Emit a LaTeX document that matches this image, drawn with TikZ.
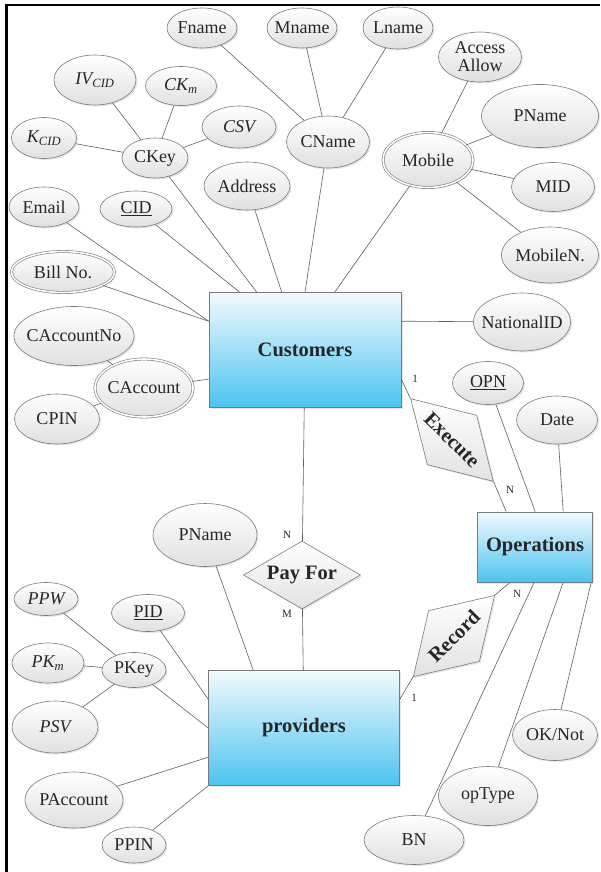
\documentclass[tikz,border=0pt]{standalone}
\usepackage{fontspec}
\setmainfont{Liberation Serif}
\usetikzlibrary{shapes.geometric,shadows,calc}

\definecolor{entTop}{HTML}{F2FAFE}
\definecolor{entBot}{HTML}{4DC3F0}
\definecolor{attrBot}{HTML}{E0E0E0}
\definecolor{relBot}{HTML}{E2E2E2}
\definecolor{edgeGray}{HTML}{7A7A7A}
\definecolor{lineGray}{HTML}{5E5E5E}
\definecolor{txt}{HTML}{262626}

\tikzset{
	sz/.style 2 args={minimum width=#1pt, minimum height=#2pt},
	softshadow/.style={drop shadow={shadow xshift=1.5pt, shadow yshift=-1.5pt, opacity=0.2}},
	attr/.style={shape=ellipse, draw=edgeGray, line width=0.6pt, top color=white, bottom color=attrBot, inner sep=0pt, inner xsep=-10pt, text=txt, font=\fontsize{18}{18}\selectfont, softshadow},
	multi/.style={attr, double=white, double distance=1.6pt},
	ent/.style={shape=rectangle, draw=edgeGray, line width=0.6pt, top color=entTop, bottom color=entBot, text=txt, font=\fontsize{20.5}{20.5}\selectfont\bfseries, softshadow},
	rel/.style={shape=diamond, aspect=1.7, draw=edgeGray, line width=0.6pt, top color=white, bottom color=relBot, inner sep=0pt, text=txt, font=\fontsize{20.5}{20.5}\selectfont\bfseries, softshadow},
	card/.style={inner sep=0pt, text=txt, font=\fontsize{11}{11}\selectfont},
	conn/.style={draw=lineGray, line width=0.6pt}
}

\begin{document}
\begin{tikzpicture}[x=1pt, y=-1pt]
	
	\useasboundingbox (0, 0) rectangle (600, 872);
	\draw[line width=2.6pt, black] (6.3, 872) -- (6.3, 5) -- (600, 5);
	
	\node[ent, sz={192}{115}] (cust) at (305, 350) {Customers};
	\node[ent, sz={191}{115}] (prov) at (304, 728) {providers};
	\node[ent, sz={115}{70}] (ops) at (535, 547) {Operations};
	
	\node[rel, sz={117}{68}] (pay) at (302, 575) {Pay For};
	\node[rel, sz={117}{70}, rotate=-45] (exe) at (452, 440) {Execute};
	\node[rel, sz={115}{72}, rotate=45] (rec) at (454, 636) {Record};
	
	\node[attr, sz={70}{40}] (fname) at (202, 28) {Fname};
	\node[attr, sz={70}{40}] (mname) at (302, 28) {Mname};
	\node[attr, sz={70}{42}] (lname) at (398, 28) {Lname};
	\node[attr, sz={83}{52}] (cname) at (328, 142) {CName};
	\node[attr, sz={83}{50}, align=center] (access) at (480, 57) {Access\\Allow};
	\node[attr, sz={117}{63}] (mpname) at (540, 116) {PName};
	\node[multi, sz={90}{55}] (mobile) at (428, 160) {Mobile};
	\node[attr, sz={83}{49}] (mid) at (553, 187) {MID};
	\node[attr, sz={97}{56}] (mobilen) at (550, 255) {MobileN.};
	
	\node[attr, sz={82}{50}] (ivcid) at (95, 80) {\itshape IV\textsubscript{CID}};
	\node[attr, sz={71}{39}] (ckm) at (181, 86) {\itshape CK\textsubscript{m}};
	\node[attr, sz={74}{42}] (csv) at (239, 127) {\itshape CSV};
	\node[attr, sz={65}{41}] (kcid) at (44, 138) {\itshape K\textsubscript{CID}};
	\node[attr, sz={66}{40}] (ckey) at (155, 158) {CKey};
	\node[attr, sz={86}{48}] (address) at (247, 186) {Address};
	\node[attr, sz={70}{40}] (email) at (44, 207) {Email};
	\node[attr, sz={72}{36}] (cid) at (136, 209) {\underline{CID}};
	\node[multi, sz={103}{41}] (bill) at (63, 272) {Bill No.};
	\node[attr, sz={97}{58}] (natid) at (522, 322) {NationalID};
	\node[attr, sz={120}{59}] (caccno) at (74, 336) {CAccountNo};
	\node[multi, sz={98}{58}] (cacc) at (144, 388) {CAccount};
	\node[attr, sz={85}{50}] (cpin) at (57, 419) {CPIN};
	
	\node[attr, sz={71}{43}] (opn) at (488, 383) {\underline{OPN}};
	\node[attr, sz={81}{48}] (date) at (557, 420) {Date};
	\node[attr, sz={85}{51}] (oknot) at (555, 735) {OK/Not};
	\node[attr, sz={99}{59}] (optype) at (488, 796) {opType};
	\node[attr, sz={100}{49}] (bn) at (414, 840) {BN};
	
	\node[attr, sz={104}{63}] (ppname) at (205, 535) {PName};
	\node[attr, sz={64}{33}] (ppw) at (46, 599) {\itshape PPW};
	\node[attr, sz={73}{37}] (pid) at (148, 613) {\underline{PID}};
	\node[attr, sz={72}{40}] (pkm) at (48, 663) {\itshape PK\textsubscript{m}};
	\node[attr, sz={64}{35}] (pkey) at (134, 670) {PKey};
	\node[attr, sz={86}{52}] (psv) at (55, 727) {\itshape PSV};
	\node[attr, sz={98}{56}] (pacc) at (74, 800) {PAccount};
	\node[attr, sz={64}{36}] (ppin) at (134, 845) {PPIN};
	
	\node[card] (exeone) at (415, 379) {1};
	\node[card] (exen) at (510, 490) {N};
	\node[card] (payn) at (287, 535) {N};
	\node[card] (paym) at (287, 614) {M};
	\node[card] (recone) at (414, 698) {1};
	\node[card] (recn) at (517, 594) {N};
	
	\path[conn] (fname) edge (cname);
	\path[conn] (mname) edge (cname);
	\path[conn] (lname) edge (cname);
	\path[conn] (access) edge (mobile);
	\path[conn] (mpname) edge (mobile);
	\path[conn] (mid) edge (mobile);
	\path[conn] (mobilen) edge (mobile);
	\path[conn] (ivcid) edge (ckey);
	\path[conn] (ckm) edge (ckey);
	\path[conn] (csv) edge (ckey);
	\path[conn] (kcid) edge (ckey);
	\path[conn] (caccno) edge (cacc);
	\path[conn] (cpin) edge (cacc);
	
	\path[conn] (cname) edge (cust.north);
	\path[conn] (mobile) edge ($(cust.north west)+(126, 0)$);
	\path[conn] (address) edge ($(cust.north west)+(73, 0)$);
	\path[conn] (ckey) edge ($(cust.north west)+(48, 0)$);
	\path[conn] (cid) edge ($(cust.north west)+(31, 0)$);
	\path[conn] (email) edge ($(cust.north west)+(0, 29)$);
	\path[conn] (bill) edge ($(cust.north west)+(0, 29)$);
	\path[conn] (cacc) edge ($(cust.north west)+(0, 87)$);
	\path[conn] (natid) edge ($(cust.north east)+(0, 29)$);
	
	\path[conn] ($(cust.north east)+(0, 87)$) edge (exe.west);
	\path[conn] (exe.east) edge ($(ops.north west)+(29, 0)$);
	\path[conn] (cust) edge (pay);
	\path[conn] (pay) edge (prov);
	\path[conn] ($(prov.north east)+(0, 29)$) edge (rec.west);
	\path[conn] (rec.east) edge ($(ops.south west)+(33, 0)$);
	
	\path[conn] (opn) edge ($(ops.north west)+(58, 0)$);
	\path[conn] (date) edge ($(ops.north west)+(86, 0)$);
	\path[conn] (bn) edge ($(ops.south west)+(57, 0)$);
	\path[conn] (optype) edge ($(ops.south west)+(86, 0)$);
	\path[conn] (oknot) edge ($(ops.south west)+(114, 0)$);
	
	\path[conn] (ppw) edge (pkey);
	\path[conn] (pkm) edge (pkey);
	\path[conn] (psv) edge (pkey);
	\path[conn] (ppname) edge ($(prov.north west)+(45, 0)$);
	\path[conn] (pid) edge ($(prov.north west)+(0, 29)$);
	\path[conn] (pkey) edge (prov.west);
	\path[conn] (pacc) edge ($(prov.north west)+(0, 87)$);
	\path[conn] (ppin) edge (prov.south west);

\end{tikzpicture}
\end{document}
